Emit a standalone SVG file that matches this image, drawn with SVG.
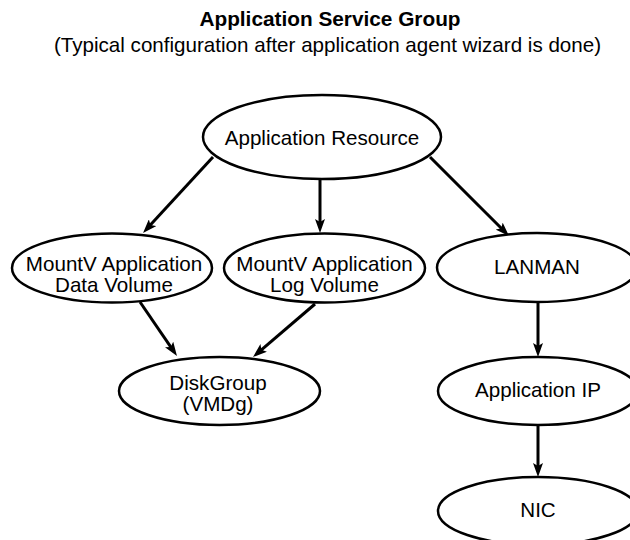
<svg xmlns="http://www.w3.org/2000/svg" width="630" height="540" viewBox="0 0 630 540">
<style>
  text { font-family: "Liberation Sans", Arial, sans-serif; font-size: 20.6px; fill: #000; text-anchor: middle; }
  .title { font-weight: bold; font-size: 20.8px; }
  ellipse { fill: #fff; stroke: #000; stroke-width: 2.5; }
  .edge { stroke: #000; stroke-width: 3; fill: none; marker-end: url(#arr); }
</style>
<defs>
  <marker id="arr" markerUnits="userSpaceOnUse" viewBox="0 0 14 10" refX="8" refY="5" markerWidth="14" markerHeight="10" orient="auto">
    <path d="M0,0 L14,5 L0,10 L3,5 z" fill="#000"/>
  </marker>
</defs>
<rect width="630" height="540" fill="#fff"/>
<text class="title" x="330" y="26">Application Service Group</text>
<text x="327.5" y="52">(Typical configuration after application agent wizard is done)</text>
<g id="connectors">
  <line class="edge" x1="213" y1="157" x2="147.1" y2="228.6"/>
  <line class="edge" x1="320" y1="179" x2="320" y2="227"/>
  <line class="edge" x1="430" y1="157" x2="504.8" y2="231.8"/>
  <line class="edge" x1="140" y1="302" x2="173.6" y2="351.1"/>
  <line class="edge" x1="315" y1="304" x2="257.6" y2="353.1"/>
  <line class="edge" x1="538" y1="302" x2="538" y2="351"/>
  <line class="edge" x1="538" y1="425" x2="538" y2="471"/>
</g>
<g id="app-resource">
  <ellipse cx="322" cy="137" rx="119" ry="42"/>
  <text x="322" y="145">Application Resource</text>
</g>
<g id="mountv-data">
  <ellipse cx="112" cy="268" rx="100" ry="34.5"/>
  <text x="114" y="271">MountV Application</text>
  <text x="114" y="292">Data Volume</text>
</g>
<g id="mountv-log">
  <ellipse cx="324.5" cy="268" rx="100.5" ry="34.5"/>
  <text x="324.5" y="271">MountV Application</text>
  <text x="324.5" y="292">Log Volume</text>
</g>
<g id="lanman">
  <ellipse cx="537" cy="267.5" rx="100" ry="34.5"/>
  <text x="537" y="274">LANMAN</text>
</g>
<g id="diskgroup">
  <ellipse cx="219.5" cy="391" rx="100.5" ry="34"/>
  <text x="218" y="390">DiskGroup</text>
  <text x="218" y="411">(VMDg)</text>
</g>
<g id="app-ip">
  <ellipse cx="538" cy="391" rx="100" ry="34"/>
  <text x="538" y="397">Application IP</text>
</g>
<g id="nic">
  <ellipse cx="538" cy="511" rx="100" ry="34"/>
  <text x="538" y="517">NIC</text>
</g>
</svg>
